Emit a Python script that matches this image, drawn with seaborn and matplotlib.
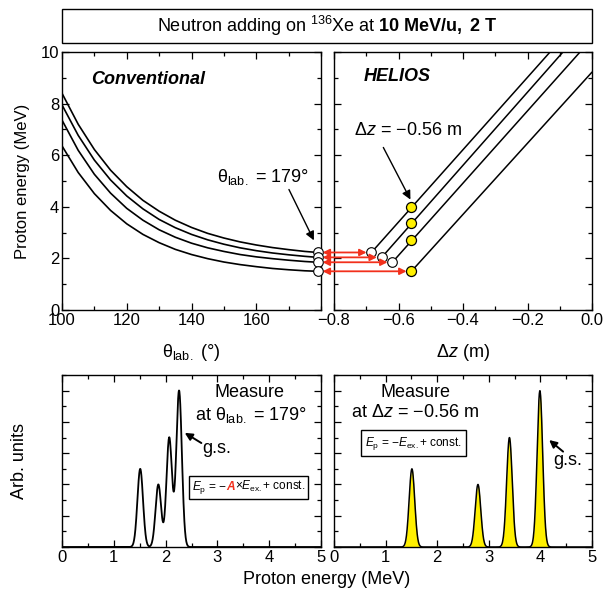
import numpy as np
import pandas as pd
import matplotlib
matplotlib.use("Agg")
import matplotlib.pyplot as plt
import seaborn as sns
from matplotlib.patches import Rectangle, ConnectionPatch
from matplotlib.transforms import Bbox
from matplotlib.ticker import MultipleLocator, NullFormatter

# ---------------- data ----------------
theta_deg = [100, 105, 110, 115, 120, 125, 130, 135, 140, 145, 150, 155, 160, 165, 170, 175, 179]
E_conv_gs = [8.40, 7.20, 6.22, 5.42, 4.78, 4.25, 3.83, 3.48, 3.20, 2.97, 2.79, 2.64, 2.52, 2.42, 2.34, 2.27, 2.23]
E_conv_1 = [7.95, 6.77, 5.81, 5.04, 4.42, 3.92, 3.51, 3.19, 2.93, 2.72, 2.55, 2.41, 2.30, 2.21, 2.14, 2.08, 2.04]
E_conv_2 = [7.36, 6.19, 5.26, 4.53, 3.94, 3.48, 3.11, 2.82, 2.59, 2.41, 2.27, 2.15, 2.06, 1.99, 1.93, 1.88, 1.85]
E_conv_3 = [6.36, 5.33, 4.51, 3.86, 3.34, 2.93, 2.61, 2.35, 2.15, 1.99, 1.86, 1.76, 1.68, 1.61, 1.56, 1.52, 1.50]
theta_obs = 179
E_obs_conv = [2.23, 2.04, 1.85, 1.50]

dz_start = [-0.684, -0.652, -0.619, -0.56]
E_start = [2.23, 2.04, 1.85, 1.50]
dz_end = [-0.130, -0.090, -0.037, 0.0]
E_end = [10.0, 10.0, 10.0, 9.22]
dz_obs = -0.56
E_obs_helios = [3.99, 3.37, 2.70, 1.50]

peak_strength = [1.00, 0.70, 0.40, 0.50]
peak_conv = [2.26, 2.07, 1.86, 1.51]
peak_helios = [3.99, 3.40, 2.79, 1.51]
sigma_conv = 0.054
sigma_helios = 0.054

# ---------------- style ----------------
sns.set_theme(style="ticks")
plt.rcParams.update({
    "font.family": ["Liberation Sans", "DejaVu Sans"],
    "mathtext.fontset": "custom",
    "mathtext.rm": "Liberation Sans",
    "mathtext.it": "Liberation Sans:italic",
    "mathtext.bf": "Liberation Sans:bold",
    "axes.linewidth": 1.0,
    "axes.edgecolor": "black",
    "text.color": "black",
    "axes.labelcolor": "black",
    "xtick.color": "black",
    "ytick.color": "black",
})

RED = "#f2301c"
YEL = "#fff000"
FS_TICK = 12
FS_LAB = 13
FS_TXT = 13

fig = plt.figure(figsize=(6.06, 5.92), dpi=100)
W, H = 606.0, 592.0


def add_ax(x0, x1, ytop, ybot):
    return fig.add_axes([x0 / W, 1 - ybot / H, (x1 - x0) / W, (ybot - ytop) / H])


ax1 = add_ax(62, 321, 52, 310)
ax2 = add_ax(334, 592, 52, 310)
ax3 = add_ax(62, 321, 375, 547)
ax4 = add_ax(334, 592, 375, 547)

for ax in (ax1, ax2, ax3, ax4):
    ax.tick_params(which="both", direction="in", top=True, right=True,
                   labelsize=FS_TICK, width=0.9, pad=2)
    ax.tick_params(which="major", length=5)
    ax.tick_params(which="minor", length=3)
    for s in ax.spines.values():
        s.set_linewidth(1.0)
        s.set_color("black")


def arrow(ax, start, tip, lw=1.0, ms=13):
    ax.annotate("", xy=tip, xytext=start,
                arrowprops=dict(arrowstyle="-|>", color="black", lw=lw,
                                mutation_scale=ms, shrinkA=0, shrinkB=0))


# ---- title box ----
fig.add_artist(Rectangle((62 / W, 1 - 43 / H), (592 - 62) / W, 34 / H,
                         transform=fig.transFigure, fill=False, ec="black", lw=1.0))
fig.text(327 / W, 1 - 26 / H,
         r"Neutron adding on $^{136}$Xe at $\mathbf{10\ MeV/u,\ 2\ T}$",
         ha="center", va="center", fontsize=13)

# ---- conventional ----
conv = pd.DataFrame({
    "theta": theta_deg * 4,
    "E": E_conv_gs + E_conv_1 + E_conv_2 + E_conv_3,
    "state": sum([[k] * len(theta_deg) for k in range(4)], []),
})
sns.lineplot(data=conv, x="theta", y="E", units="state", estimator=None,
             color="black", lw=1.2, ax=ax1, sort=False)
sns.scatterplot(x=[theta_obs] * 4, y=E_obs_conv, ax=ax1, s=48, marker="o",
                facecolor="white", edgecolor="black", linewidth=0.8, zorder=5, clip_on=False)
ax1.set_xlim(100, 180)
ax1.set_ylim(0, 10)
ax1.xaxis.set_major_locator(MultipleLocator(20))
ax1.xaxis.set_minor_locator(MultipleLocator(10))
ax1.yaxis.set_major_locator(MultipleLocator(2))
ax1.yaxis.set_minor_locator(MultipleLocator(1))
ax1.set_xticks([100, 120, 140, 160])
ax1.set_xlabel("θ$_{\\rm lab.}$ (°)", fontsize=FS_LAB)
ax1.set_ylabel("Proton energy (MeV)", fontsize=12)
ax1.xaxis.set_label_coords(0.5, -0.125)
ax1.yaxis.set_label_coords(-0.124, 0.5)
ax1.text(109, 8.95, "Conventional", fontsize=13, fontweight="bold", fontstyle="italic",
         ha="left", va="center")
ax1.text(162, 5.16, "θ$_{\\rm lab.}$ = 179°", ha="center", va="center", fontsize=FS_TXT)
arrow(ax1, (170.1, 4.67), (177.8, 2.70))

# ---- HELIOS ----
hel = pd.DataFrame({
    "dz": [v for pair in zip(dz_start, dz_end) for v in pair],
    "E": [v for pair in zip(E_start, E_end) for v in pair],
    "state": sum([[k, k] for k in range(4)], []),
})
sns.lineplot(data=hel, x="dz", y="E", units="state", estimator=None,
             color="black", lw=1.1, ax=ax2, sort=False)
sns.scatterplot(x=dz_start[:3], y=E_start[:3], ax=ax2, s=48, marker="o",
                facecolor="white", edgecolor="black", linewidth=0.8, zorder=5)
sns.scatterplot(x=[dz_obs] * 4, y=E_obs_helios, ax=ax2, s=52, marker="o",
                facecolor=YEL, edgecolor="black", linewidth=0.9, zorder=6)
ax2.set_xlim(-0.8, 0.0)
ax2.set_ylim(0, 10)
ax2.xaxis.set_major_locator(MultipleLocator(0.2))
ax2.xaxis.set_minor_locator(MultipleLocator(0.1))
ax2.yaxis.set_major_locator(MultipleLocator(2))
ax2.yaxis.set_minor_locator(MultipleLocator(1))
ax2.xaxis.set_major_formatter(matplotlib.ticker.FuncFormatter(
    lambda v, p: ("−" if v < -1e-9 else "") + f"{abs(v):.1f}"))
ax2.yaxis.set_major_formatter(NullFormatter())
ax2.set_ylabel("")
ax2.set_xlabel("Δ$z$ (m)", fontsize=FS_LAB)
ax2.xaxis.set_label_coords(0.5, -0.125)
ax2.text(-0.709, 9.05, "HELIOS", fontsize=13, fontweight="bold", fontstyle="italic",
         ha="left", va="center")
ax2.text(-0.570, 6.95, "Δ$z$ = −0.56 m", ha="center", va="center", fontsize=FS_TXT)
arrow(ax2, (-0.647, 6.30), (-0.563, 4.28))

# red double arrows between panels
for Ec, dzs in zip(E_obs_conv, dz_start):
    con = ConnectionPatch(xyA=(theta_obs, Ec), coordsA=ax1.transData,
                          xyB=(dzs, Ec), coordsB=ax2.transData,
                          arrowstyle="<|-|>", color=RED, lw=1.3, mutation_scale=10,
                          shrinkA=3.5, shrinkB=3.5, zorder=4)
    fig.add_artist(con)

# ---- spectra ----
egrid = np.linspace(0, 5, 1201)
spec_conv = np.zeros_like(egrid)
for c, a in zip(peak_conv, peak_strength):
    spec_conv += a * np.exp(-0.5 * ((egrid - c) / sigma_conv) ** 2)
spec_hel = np.zeros_like(egrid)
for c, a in zip(peak_helios, peak_strength):
    spec_hel += a * np.exp(-0.5 * ((egrid - c) / sigma_helios) ** 2)

sns.lineplot(x=egrid, y=spec_conv, ax=ax3, color="black", lw=1.3)
ax4.fill_between(egrid, 0, spec_hel, color=YEL, lw=0)
sns.lineplot(x=egrid, y=spec_hel, ax=ax4, color="black", lw=1.1)

for ax in (ax3, ax4):
    ax.set_xlim(0, 5)
    ax.set_ylim(0, 1.1)
    ax.xaxis.set_major_locator(MultipleLocator(1))
    ax.xaxis.set_minor_locator(MultipleLocator(0.5))
    ax.yaxis.set_major_locator(MultipleLocator(0.2))
    ax.yaxis.set_minor_locator(MultipleLocator(0.1))
    ax.yaxis.set_major_formatter(NullFormatter())
    ax.set_xlabel("")
    ax.set_ylabel("")

ax3.set_ylabel("Arb. units", fontsize=FS_LAB)
ax3.yaxis.set_label_coords(-0.131, 0.5)
fig.text(327 / W, 1 - 571 / H, "Proton energy (MeV)", ha="center", va="top", fontsize=FS_LAB)

ax3.text(3.62, 0.99, "Measure", ha="center", va="center", fontsize=FS_TXT)
ax3.text(3.65, 0.845, "at θ$_{\\rm lab.}$ = 179°", ha="center", va="center", fontsize=FS_TXT)
ax3.text(2.98, 0.627, "g.s.", ha="center", va="center", fontsize=FS_TXT)
arrow(ax3, (2.69, 0.665), (2.37, 0.73), lw=1.4, ms=11)

ax4.text(1.57, 0.99, "Measure", ha="center", va="center", fontsize=FS_TXT)
ax4.text(1.57, 0.863, "at Δ$z$ = −0.56 m", ha="center", va="center", fontsize=FS_TXT)
ax4.text(4.53, 0.553, "g.s.", ha="center", va="center", fontsize=FS_TXT)
arrow(ax4, (4.44, 0.61), (4.17, 0.684), lw=1.4, ms=11)
ax4.text(1.54, 0.665, "$E_{\\rm p}$ = −$E_{\\rm ex.}$+ const.", ha="center", va="center",
         fontsize=8.6, bbox=dict(boxstyle="square,pad=0.35", fc="white", ec="black", lw=1.0))

# left box formula with red A
yb = 0.333
t1 = ax3.text(0.50, yb, "$E_{\\rm p}$ = −", transform=ax3.transAxes, ha="left",
              va="baseline", fontsize=8.6, zorder=6)
t2 = ax3.annotate("A", xy=(1, yb), xycoords=(t1, "axes fraction"), ha="left", va="baseline",
                  fontsize=8.6, color=RED, fontweight="bold", fontstyle="italic", zorder=6)
t3 = ax3.annotate("×$E_{\\rm ex.}$+ const.", xy=(1, yb), xycoords=(t2, "axes fraction"),
                  ha="left", va="baseline", fontsize=8.6, zorder=6)
fig.canvas.draw()
r = fig.canvas.get_renderer()
bb = Bbox.union([t.get_window_extent(r) for t in (t1, t2, t3)])
pad = 3
bb = Bbox.from_extents(bb.x0 - pad, bb.y0 - pad, bb.x1 + pad, bb.y1 + pad)
bba = bb.transformed(ax3.transAxes.inverted())
ax3.add_patch(Rectangle((bba.x0, bba.y0), bba.width, bba.height, transform=ax3.transAxes,
                        fill=True, fc="white", ec="black", lw=1.0, zorder=5))

fig.savefig("out.png", dpi=100)
